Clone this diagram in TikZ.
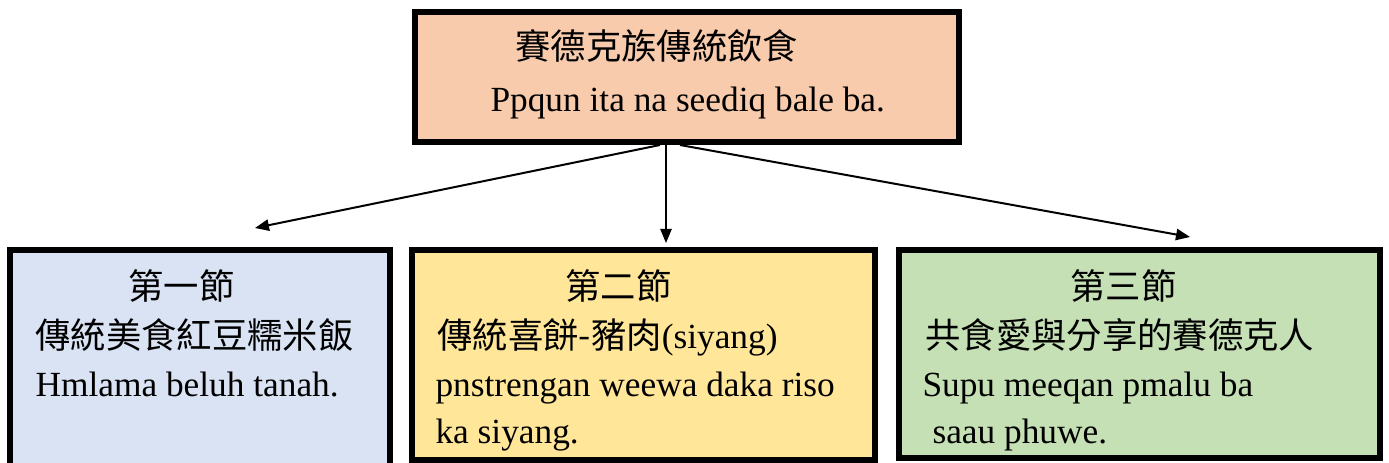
\documentclass[tikz,border=0pt]{standalone}
\usepackage{fontspec}
\setmainfont{Liberation Serif}
\newfontfamily\cjk{Noto Sans CJK TC}
\usetikzlibrary{arrows.meta}

\definecolor{peach}{HTML}{F8CBAD}
\definecolor{paleblue}{HTML}{DAE3F3}
\definecolor{paleyellow}{HTML}{FFE699}
\definecolor{palegreen}{HTML}{C5E0B4}

\tikzset{every picture/.style={line width=0.75pt}}
\tikzset{
  secbox/.style={draw, line width=4.5pt, inner sep=0pt},
  txt/.style={anchor=base west, inner sep=0pt, font=\fontsize{26.5pt}{32pt}\selectfont},
  arr/.style={line width=1.5pt, -{Triangle[length=10.5pt,width=8.5pt]}}
}

\begin{document}
\begin{tikzpicture}[x=0.75pt,y=0.75pt,yscale=-1,xscale=1]
\useasboundingbox (0,0) rectangle (1389,463);

%Shape: Rectangle [top]
\node [secbox, fill=peach, minimum width=408pt, minimum height=97.5pt] (top) at (687,77) {};
%Shape: Rectangle [section 1]
\node [secbox, fill=paleblue, minimum width=285pt, minimum height=172.5pt] (sec1) at (200,365) {};
%Shape: Rectangle [section 2]
\node [secbox, fill=paleyellow, minimum width=347.6pt, minimum height=157.5pt] (sec2) at (643.25,355) {};
%Shape: Rectangle [section 3]
\node [secbox, fill=palegreen, minimum width=360.75pt, minimum height=156pt] (sec3) at (1139.5,354) {};

\coordinate (end1) at (255,228);
\coordinate (end2) at (666,243);
\coordinate (end3) at (1190,237);

\draw [arr] ([xshift=-20.25pt]top.south) -- (end1);
\draw [arr, line width=1pt] ([xshift=-15.75pt]top.south) -- (end2);
\draw [arr] ([xshift=-5.25pt]top.south) -- (end3);

% Text Node
\draw (515,60) node [txt] (title1) {\cjk 賽德克族傳統飲食};
% Text Node
\draw (490,112) node [txt] (title2) {Ppqun ita na seediq bale ba.};

% Text Node
\draw (128,300) node [txt] (s1a) {\cjk 第一節};
% Text Node
\draw (35,349) node [txt] (s1b) {\cjk 傳統美食紅豆糯米飯};
% Text Node
\draw (35,397) node [txt] (s1c) {Hmlama beluh tanah.};

% Text Node
\draw (565,300) node [txt] (s2a) {\cjk 第二節};
% Text Node
\draw (437,349) node [txt] (s2b) {{\cjk 傳統喜餅-豬肉}(siyang)};
% Text Node
\draw (435,397) node [txt] (s2c) {pnstrengan weewa daka riso};
% Text Node
\draw (435,443) node [txt] (s2d) {ka siyang.};

% Text Node
\draw (1070,300) node [txt] (s3a) {\cjk 第三節};
% Text Node
\draw (925,349) node [txt] (s3b) {\cjk 共食愛與分享的賽德克人};
% Text Node
\draw (922,397) node [txt] (s3c) {Supu meeqan pmalu ba};
% Text Node
\draw (932,443) node [txt] (s3d) {saau phuwe.};

\end{tikzpicture}
\end{document}
